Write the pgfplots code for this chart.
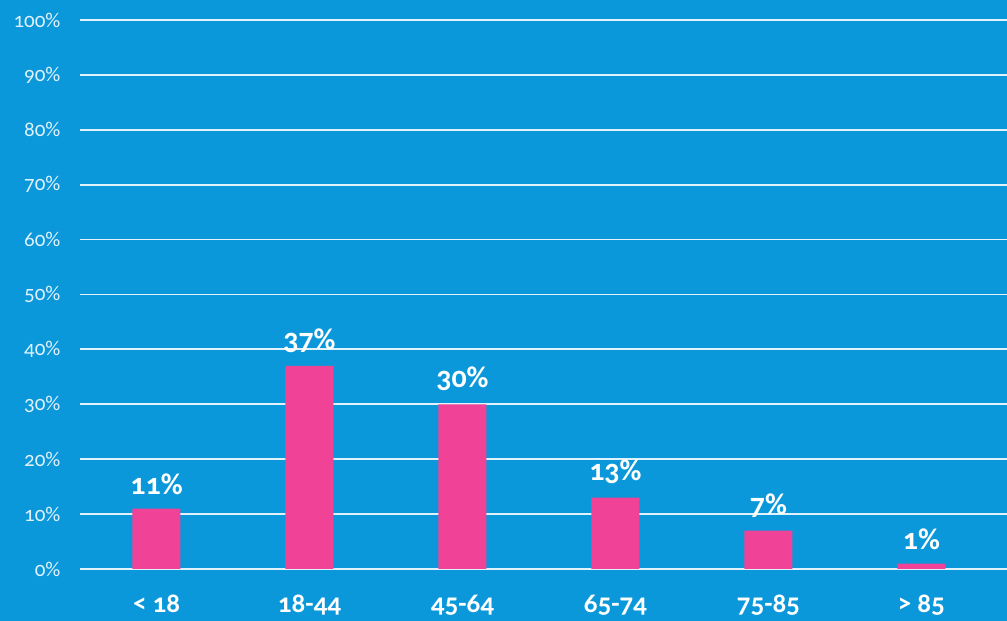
\documentclass[border=0pt]{standalone}
\usepackage{pgfplots}
\pgfplotsset{compat=1.18}
\usepackage{fontspec}
\setmainfont{Carlito}[Numbers=OldStyle]
\newfontfamily\carl{Carlito}[Numbers=OldStyle,RawFeature=+onum]
\newcommand\osf{\addfontfeatures{Numbers=OldStyle}}
\definecolor{bg}{RGB}{10,152,218}
\definecolor{barpink}{RGB}{240,66,150}
\definecolor{gridc}{RGB}{225,242,252}
\begin{document}
\begin{tikzpicture}[x=1pt,y=1pt]
\fill[bg] (-80,-52) rectangle (927,569);
\useasboundingbox (-80,-52) rectangle (927,569);
\begin{axis}[
  at={(0,0)}, anchor=south west,
  scale only axis, width=927pt, height=549pt,
  xmin=-0.5, xmax=5.56, ymin=0, ymax=100,
  /pgf/number format/assume math mode=true,
  axis line style={draw=none}, major tick style={draw=none},
  ytick={0,10,...,100},
  yticklabel={\carl\osf\pgfmathprintnumber{\tick}\%},
  yticklabel style={font=\carl\fontsize{21}{21}\selectfont\osf, text=gridc, xshift=-16pt},
  ymajorgrids, grid style={line width=1.8pt, color=gridc},
  xtick={0,...,5},
  xticklabels={{\osf < 18}, {\osf 18-44}, {\osf 45-64}, {\osf 65-74}, {\osf 75-85}, {\osf > 85}},
  xticklabel style={font=\carl\bfseries\fontsize{27}{27}\selectfont\osf, text=white, yshift=-18pt},
  ybar, bar width=48pt,
  nodes near coords={\carl\bfseries\osf\pgfmathprintnumber{\pgfplotspointmeta}\%},
  nodes near coords style={font=\carl\bfseries\fontsize{30}{30}\selectfont\osf, text=white, yshift=10pt},
]
\addplot[fill=barpink, draw=none] coordinates {(0,11) (1,37) (2,30) (3,13) (4,7) (5,1)};
\end{axis}
\end{tikzpicture}
\end{document}
